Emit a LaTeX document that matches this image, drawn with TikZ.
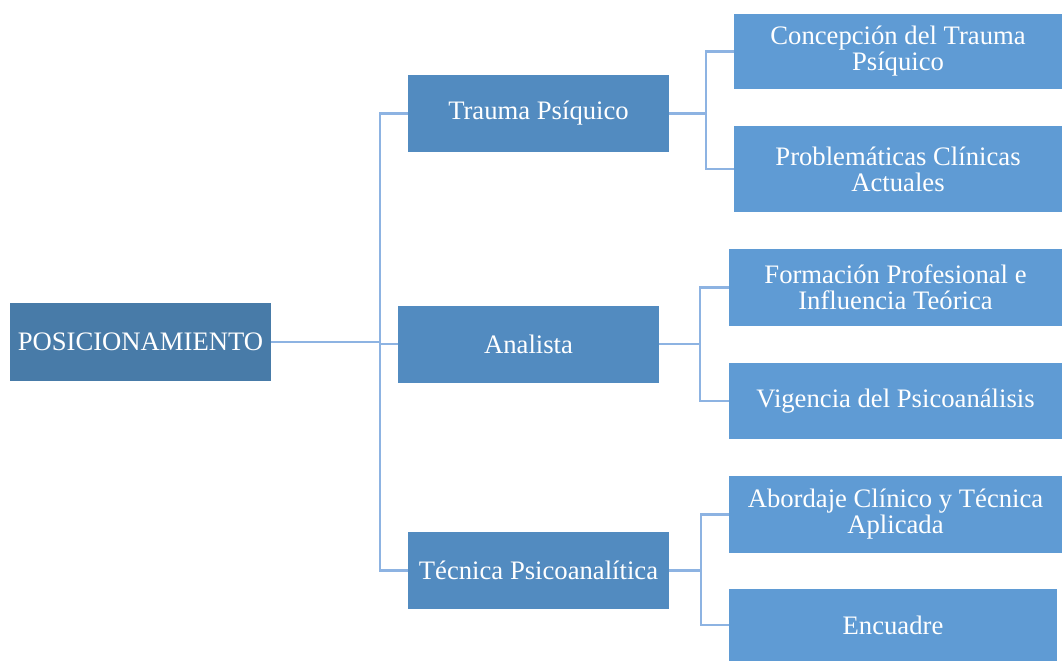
\documentclass[tikz,border=0pt]{standalone}
\usepackage{fontspec}
\setmainfont{Liberation Serif}
\usepackage{xcolor}
\usetikzlibrary{positioning}

\definecolor{rootblue}{HTML}{487BA8}
\definecolor{midblue}{HTML}{528BC0}
\definecolor{leafblue}{HTML}{5F9BD4}
\definecolor{linkblue}{HTML}{8DB3E2}

\begin{document}
\begin{tikzpicture}[
    x=0.75pt, y=-0.75pt,
    root/.style={rectangle, fill=rootblue, text=white, minimum width=261*0.75pt, minimum height=78*0.75pt, inner sep=0pt, align=center, font=\fontsize{20}{19.5}\selectfont},
    topic/.style={rectangle, fill=midblue, text=white, minimum width=261*0.75pt, minimum height=77*0.75pt, inner sep=0pt, align=center, font=\fontsize{20}{19.5}\selectfont},
    leaf/.style={rectangle, fill=leafblue, text=white, minimum width=333*0.75pt, minimum height=77*0.75pt, inner sep=0pt, align=center, font=\fontsize{20}{19.5}\selectfont},
    link/.style={draw=linkblue, line width=2.2pt}
]
    \useasboundingbox (0,0) rectangle (1062,661);

    \node[root] (pos) at (140.5,342) {POSICIONAMIENTO};

    \node[topic] (trauma) at (538.5,113.5) {Trauma Psíquico};
    \node[topic] (analista) at (528.5,344) {Analista};
    \node[topic] (tecnica) at (538.5,570.5) {Técnica Psicoanalítica};

    \node[leaf, minimum width=328*0.75pt, minimum height=75*0.75pt] (concep) at (898,51.5) {Concepción del Trauma\\Psíquico};
    \node[leaf, minimum width=328*0.75pt, minimum height=86*0.75pt] (probl) at (898,169) {Problemáticas Clínicas\\Actuales};
    \node[leaf] (formac) at (895.5,287.5) {Formación Profesional e\\Influencia Teórica};
    \node[leaf, minimum height=76*0.75pt] (vigen) at (895.5,401) {Vigencia del Psicoanálisis};
    \node[leaf] (abord) at (895.5,514.5) {Abordaje Clínico y Técnica\\Aplicada};
    \node[leaf, minimum width=328*0.75pt, minimum height=72*0.75pt] (encua) at (893,625) {Encuadre};

    % main branches
    \coordinate (trunk) at (380,342);
    \draw[link] (pos.east) -- (trunk);
    \draw[link] (trunk) |- (trauma.west);
    \draw[link] (trunk) |- (analista.west);
    \draw[link] (trunk) |- (tecnica.west);

    % sub branches
    \coordinate (tr) at (706,113.5);
    \draw[link] (trauma.east) -- (tr);
    \draw[link] (tr) |- (concep.west);
    \draw[link] (tr) |- (probl.west);

    \coordinate (an) at (700,344);
    \draw[link] (analista.east) -- (an);
    \draw[link] (an) |- (formac.west);
    \draw[link] (an) |- (vigen.west);

    \coordinate (te) at (701,570.5);
    \draw[link] (tecnica.east) -- (te);
    \draw[link] (te) |- (abord.west);
    \draw[link] (te) |- (encua.west);
\end{tikzpicture}
\end{document}
